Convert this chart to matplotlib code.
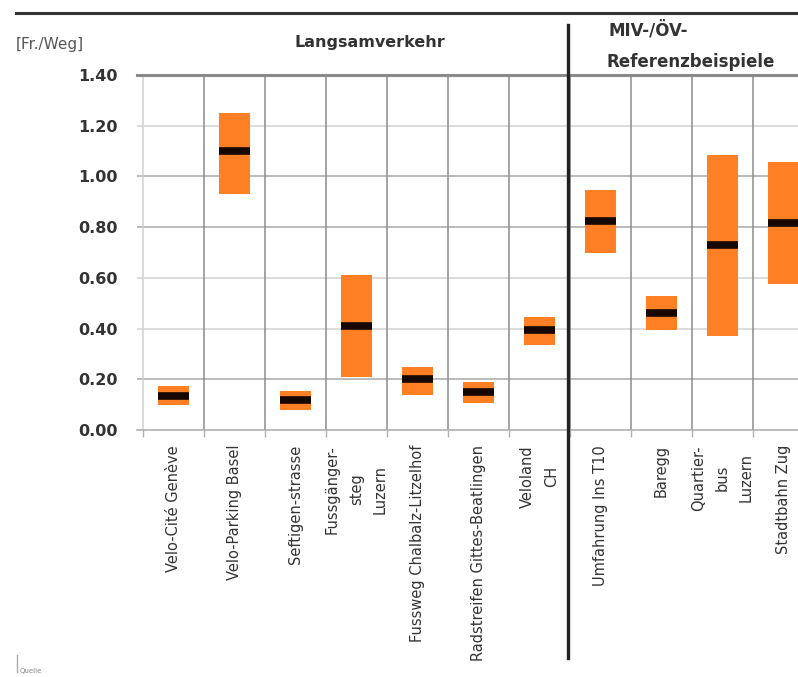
import matplotlib
matplotlib.use("Agg")
import matplotlib.pyplot as plt
from matplotlib.lines import Line2D

# data (Fr./Weg)
labels = ["Velo-Cité Genève", "Velo-Parking Basel", "Seftigen-strasse",
          "Fussgänger-\nsteg\nLuzern", "Fussweg Chalbalz-Litzelhof",
          "Radstreifen Gittes-Beatlingen", "Veloland\nCH",
          "Umfahrung Ins T10", "Baregg", "Quartier-\nbus\nLuzern",
          "Stadtbahn Zug"]
low = [0.10, 0.93, 0.08, 0.21, 0.14, 0.105, 0.335, 0.70, 0.395, 0.37, 0.575]
high = [0.175, 1.25, 0.155, 0.61, 0.25, 0.19, 0.445, 0.945, 0.53, 1.085, 1.055]
mid = [0.135, 1.10, 0.12, 0.41, 0.20, 0.15, 0.395, 0.825, 0.46, 0.73, 0.815]
yticks = [0.0, 0.2, 0.4, 0.6, 0.8, 1.0, 1.2, 1.4]
unit = "[Fr./Weg]"
group_left = "Langsamverkehr"
group_right = ["MIV-/ÖV-", "Referenzbeispiele"]

W, H = 798, 677
fig = plt.figure(figsize=(W / 100, H / 100), dpi=100)


def fx(px):
    return px / W


def fy(py):
    return 1 - py / H


ax = fig.add_axes([fx(137), fy(430), fx(798 - 137), (430 - 75) / H])
n = len(labels)

# grid (the scan shows 0.2 / 0.8 / 1.0 a bit stronger)
for v in yticks[1:-1]:
    strong = round(v, 1) in (0.2, 0.8, 1.0)
    ax.axhline(v, color="#a8a8a8" if strong else "#d2d2d2", lw=1.1, zorder=0)
for i in range(n):
    ax.axvline(i, color="#d0d0d0" if i == 0 else "#8c8c8c", lw=1.1, zorder=0)

width = 0.52
xs = [i + 0.5 for i in range(n)]
ax.bar(xs, [h - l for l, h in zip(low, high)], bottom=low, width=width,
       color="#ff7f24", zorder=2)
ax.hlines(mid, [x - width / 2 for x in xs], [x + width / 2 for x in xs],
          color="#160800", lw=5.5, zorder=3)

for s in ("left", "right"):
    ax.spines[s].set_visible(False)
ax.spines["top"].set_color("#8a8a8a")
ax.spines["top"].set_linewidth(2.2)
ax.spines["bottom"].set_color("#b0b0b0")
ax.spines["bottom"].set_linewidth(1.2)

ax.set_yticks(yticks, [f"{v:.2f}" for v in yticks])
ax.tick_params(axis="y", length=0, pad=14, labelsize=11.5, labelcolor="#333333")
for t in ax.get_yticklabels():
    t.set_fontweight("bold")
ax.set_xticks(range(n))
ax.set_xticklabels([])
ax.tick_params(axis="x", length=5, color="#b0b0b0", width=1)
ax.set_xlim(-0.1, 10.74)
ax.set_ylim(0, 1.4)

for x, lab in zip(xs, labels):
    ax.text(x, -0.042, lab, transform=ax.get_xaxis_transform(), rotation=90,
            ha="center", va="top", multialignment="center", linespacing=1.75,
            fontsize=10.5, color="#333333")

# header
fig.text(fx(16), fy(45), unit, fontsize=11, color="#555555", va="center")
fig.text(fx(370), fy(43), group_left, fontsize=11.5, fontweight="bold",
         color="#333333", ha="center", va="center")
fig.text(fx(608), fy(30), group_right[0], fontsize=12, fontweight="bold",
         color="#333333", va="center")
fig.text(fx(607), fy(62), group_right[1], fontsize=12, fontweight="bold",
         color="#333333", va="center")

fig.add_artist(Line2D([fx(16), 1], [fy(13), fy(13)], color="#333333", lw=2.2))
fig.add_artist(Line2D([fx(568), fx(568)], [fy(25), fy(658)], color="#222222",
                      lw=2.4))
fig.add_artist(Line2D([fx(17), fx(17)], [fy(655), fy(672)], color="#aaaaaa",
                      lw=1))
fig.text(fx(20), fy(671), "Quelle", fontsize=5, color="#888888", va="center")

fig.savefig("out.png", dpi=100)
